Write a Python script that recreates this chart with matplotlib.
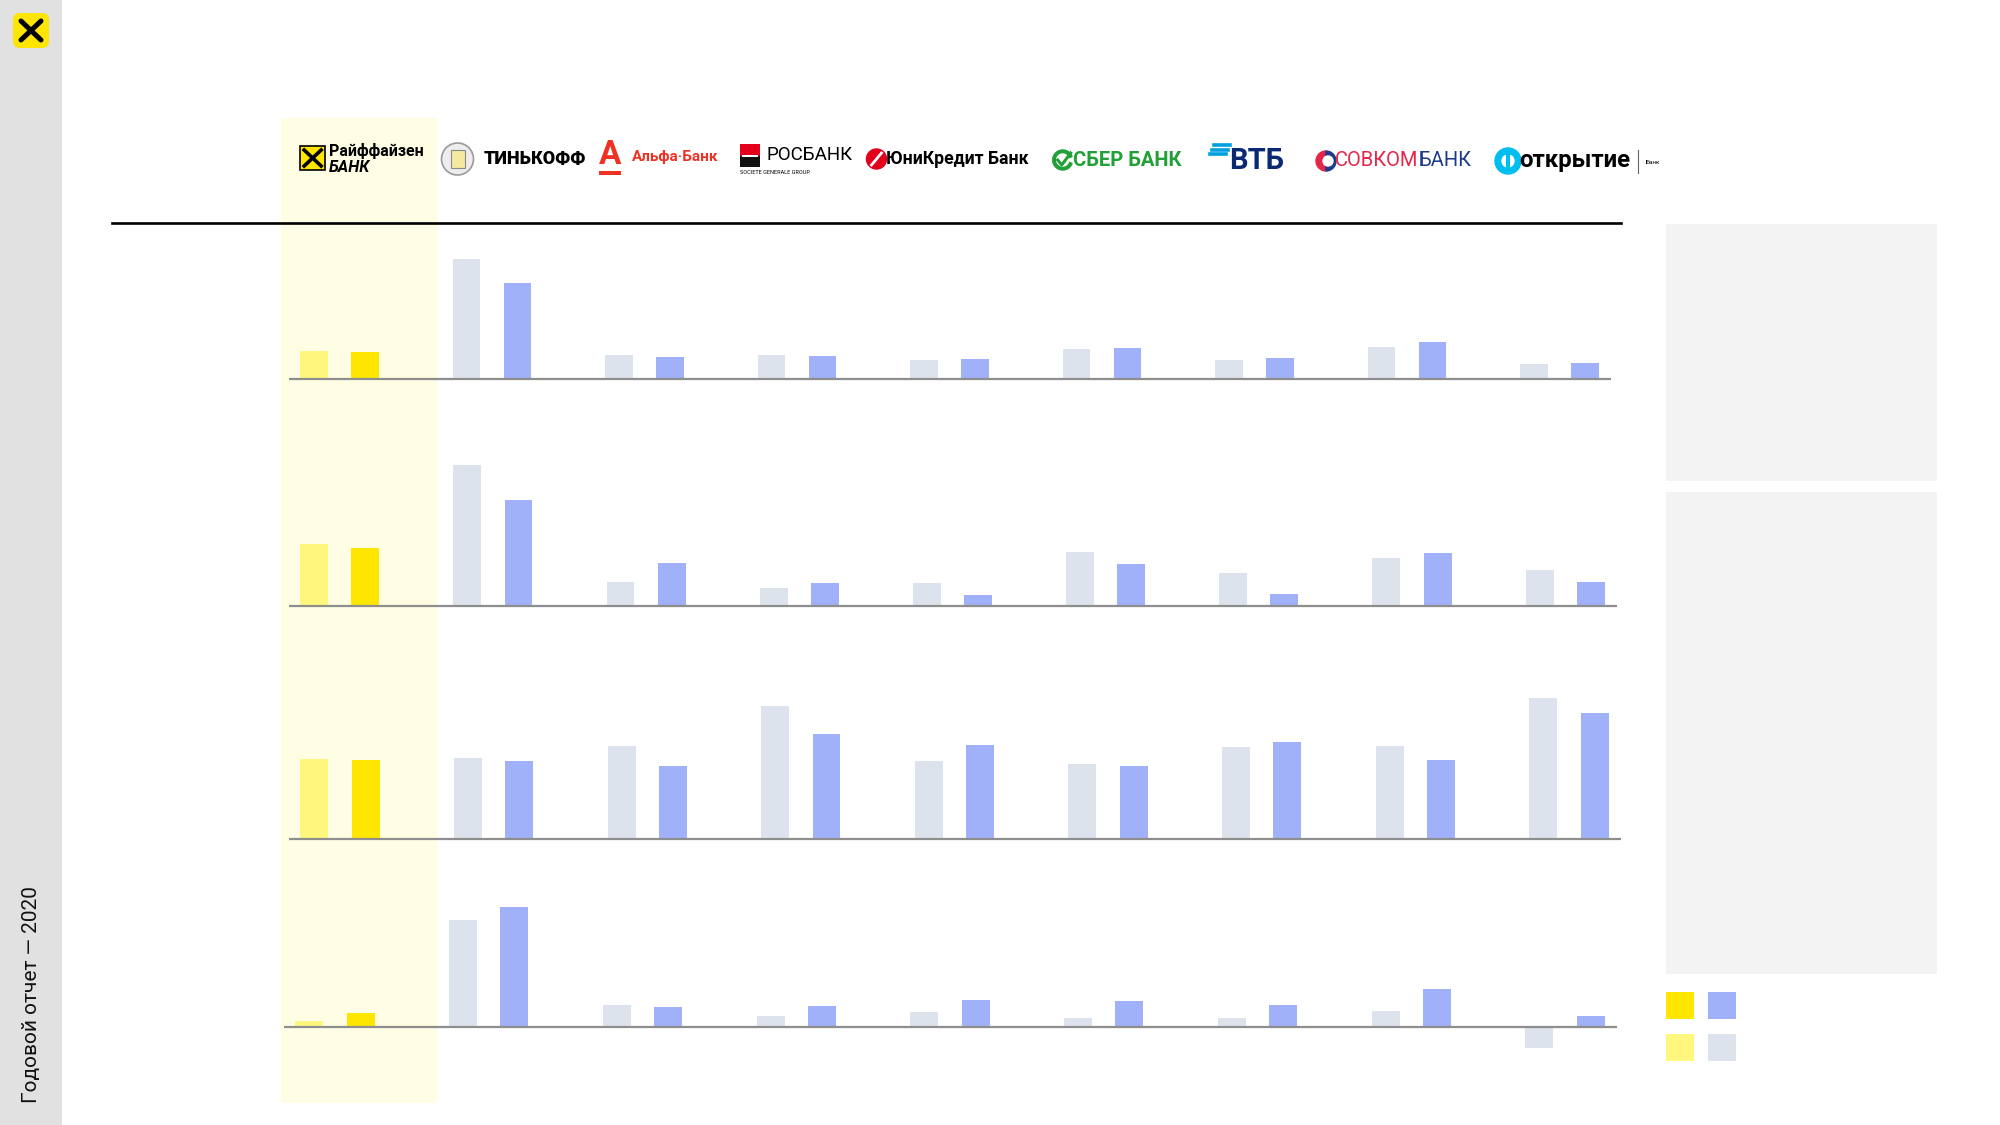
import matplotlib
matplotlib.use("Agg")
import matplotlib.pyplot as plt
from matplotlib.patches import Rectangle, FancyBboxPatch, Circle, Wedge
import numpy as np

# ---------------- data ----------------
banks = ["Райффайзен", "Тинькофф", "Альфа-Банк", "Росбанк", "ЮниКредит",
         "Сбербанк", "ВТБ", "Совкомбанк", "Открытие"]
p1_prev = [85, 361, 72, 71, 56, 91, 58, 95, 45]
p1_curr = [81, 289, 65, 69, 59, 93, 62, 110, 49]
p2_prev = [187, 422, 73, 53, 70, 162, 100, 144, 109]
p2_curr = [173, 319, 129, 68, 33, 127, 37, 160, 71]
p3_prev = [240, 244, 279, 399, 233, 226, 275, 278, 424]
p3_curr = [237, 234, 218, 314, 283, 219, 292, 237, 378]
p4_prev = [18, 322, 67, 34, 45, 26, 28, 48, -64]
p4_curr = [41, 360, 59, 64, 82, 77, 67, 114, 33]
side_title = "Годовой отчет — 2020"

YEL = "#FEE600"
YEL_L = "#FFF67E"
BLUE = "#A0B1F9"
GREY_L = "#DDE3ED"
BAND = "#FFFEE4"

W_PX, H_PX = 2000, 1125
fig = plt.figure(figsize=(20, 11.25), dpi=100)
fig.patch.set_facecolor("white")

def X(v):
    return v * 0.994

def rect(l, t, w, h):
    return [l / W_PX, 1 - (t + h) / H_PX, w / W_PX, h / H_PX]

# background / decoration axes in pixel coords
bg = fig.add_axes([0, 0, 1, 1], zorder=0)
bg.set_xlim(0, W_PX)
bg.set_ylim(H_PX, 0)
bg.axis("off")

bg.add_patch(Rectangle((0, 0), 62, H_PX, color="#E1E1E1", lw=0))
bg.add_patch(FancyBboxPatch((13, 13), 36, 35, boxstyle="round,pad=0,rounding_size=7",
                            fc=YEL, ec="none"))
bg.plot([21, 41], [21, 40], color="black", lw=3.6, solid_capstyle="round")
bg.plot([21, 41], [40, 21], color="black", lw=3.6, solid_capstyle="round")
bg.text(32, 1103, side_title, rotation=90, ha="center", va="bottom",
        fontsize=15, family="Roboto", color="#111111")

# highlight band
bg.add_patch(Rectangle((X(283), 118), 437 - X(283), 985, color=BAND, lw=0))
# top line
bg.plot([X(113), X(1631)], [223, 223], color="black", lw=1.9)

# right panels
bg.add_patch(Rectangle((1666, 224), 271, 257, color="#F3F3F3", lw=0))
bg.add_patch(Rectangle((1666, 492), 271, 482, color="#F3F3F3", lw=0))
# legend squares
bg.add_patch(Rectangle((1666, 992), 28, 27, color=YEL, lw=0))
bg.add_patch(Rectangle((1708, 992), 28, 27, color=BLUE, lw=0))
bg.add_patch(Rectangle((1666, 1034), 28, 27, color=YEL_L, lw=0))
bg.add_patch(Rectangle((1708, 1034), 28, 27, color=GREY_L, lw=0))

# ---------------- logos ----------------
cy = 159
# Raiffeisen
bg.add_patch(Rectangle((X(302), 146), 25, 24, fc=YEL, ec="black", lw=1.2))
bg.plot([X(306), X(306) + 17], [150, 166], color="black", lw=2.6)
bg.plot([X(306), X(306) + 17], [166, 150], color="black", lw=2.6)
bg.text(X(331), 151, "Райффайзен", fontsize=11.5, fontweight="bold", family="Roboto",
        ha="left", va="center")
bg.text(X(331), 167, "БАНК", fontsize=11.5, fontweight="bold", style="italic",
        family="Roboto", ha="left", va="center")
# Tinkoff
bg.add_patch(Circle((457.5, 159), 16, fc="#EDEDED", ec="#9A9A9A", lw=1.2))
bg.add_patch(Rectangle((457.5 - 7, 150), 14, 18, fc="#F3E9A0", ec="#8A8A8A", lw=0.8))
bg.text(483.5, cy, "ТИНЬКОФФ", fontsize=13, fontweight="black", family="Roboto",
        ha="left", va="center")
# Alfa
bg.text(610, 155, "А", fontsize=24, fontweight="bold", family="Roboto",
        color="#EF3124", ha="center", va="center")
bg.add_patch(Rectangle((599, 171), 22, 4, color="#EF3124", lw=0))
bg.text(632, 157, "Альфа·Банк", fontsize=11, fontweight="bold", family="Roboto",
        color="#EF3124", ha="left", va="center")
# Rosbank
bg.add_patch(Rectangle((740, 144), 20, 12, color="#E4001B", lw=0))
bg.add_patch(Rectangle((740, 156), 20, 11, color="#111111", lw=0))
bg.add_patch(Rectangle((742, 155), 16, 2, color="white", lw=0))
bg.text(766, 155, "РОСБАНК", fontsize=13.5, family="Roboto", ha="left", va="center")
bg.text(740, 172, "SOCIETE GENERALE GROUP", fontsize=4, family="Roboto",
        ha="left", va="center")
# UniCredit
bg.add_patch(Circle((876.5, 159), 10, color="#E2001A"))
bg.plot([871.5, 881.5], [165, 153], color="white", lw=2)
bg.text(886.5, cy, "ЮниКредит Банк", fontsize=12.7, fontweight="bold", family="Roboto",
        ha="left", va="center")
# Sber
sx = 1062.7
bg.add_patch(Wedge((sx, 160), 10, 20, 340, width=2.6, color="#21A038"))
bg.plot([sx - 5, sx - 1, sx + 8], [160, 165, 153], color="#21A038", lw=2.2)
bg.text(1073.3, 160, "СБЕР БАНК", fontsize=14.5, fontweight="bold", family="Roboto",
        color="#21A038", ha="left", va="center")
# VTB
vx = 1209.5
for k in range(3):
    bg.plot([vx + 4 - 2 * k, vx + 20 - 2 * k], [145 + 4.5 * k, 145 + 4.5 * k],
            color="#009FDF", lw=2.6)
bg.text(1228.7, 161, "ВТБ", fontsize=21, fontweight="bold", family="Roboto",
        color="#0A2973", ha="left", va="center")
# Sovcombank
ox = 1326
bg.add_patch(Wedge((ox, 161), 10, 90, 270, color="#E3264A"))
bg.add_patch(Wedge((ox, 161), 10, 270, 90, color="#1E3A8A"))
bg.add_patch(Circle((ox + 2, 161), 5, color="white"))
t1 = bg.text(1334.6, 161, "СОВКОМ", fontsize=14.5, family="Roboto", color="#E3264A",
             ha="left", va="center")
bg.annotate("БАНК", xy=(1, 0.5), xycoords=t1, fontsize=14.5, family="Roboto",
            color="#1E3A8A", ha="left", va="center")
# Otkrytie
kx = 1508
bg.add_patch(Circle((kx, 161), 13, color="#00BEF0"))
bg.add_patch(Circle((kx, 161), 6, color="white"))
bg.add_patch(Rectangle((kx - 2, 150), 4, 22, color="#00BEF0", lw=0))
bg.text(1519, 160, "открытие", fontsize=17.3, fontweight="bold", family="Roboto",
        ha="left", va="center")
bg.plot([1638, 1638], [150, 173], color="#666666", lw=0.8)
bg.text(1646, 162, "Банк", fontsize=4.5, family="Roboto", ha="left", va="center")

# ---------------- bar panels ----------------
panels = [
    (p1_prev, p1_curr, 291, 1330, 235, 395, 379),
    (p2_prev, p2_curr, 291, 1336, 440, 620, 606),
    (p3_prev, p3_curr, 291, 1340, 670, 850, 839),
    (p4_prev, p4_curr, 286, 1341, 880, 1070, 1027),
]
x = np.arange(len(banks))
bw = 0.182
off = 0.167
for prev, curr, L, W, T, B, base in panels:
    ax = fig.add_axes(rect(X(L), T, X(W), B - T), zorder=2)
    ax.patch.set_alpha(0)
    ax.set_xlim(-0.33, 8.34)
    ax.set_ylim(-(B - base) * 3, (base - T) * 3)
    c_prev = [YEL_L] + [GREY_L] * (len(banks) - 1)
    c_curr = [YEL] + [BLUE] * (len(banks) - 1)
    ax.bar(x - off, prev, width=bw, color=c_prev, lw=0)
    ax.bar(x + off, curr, width=bw, color=c_curr, lw=0)
    ax.axhline(0, color="#8E8E8E", lw=1.6)
    ax.axis("off")

fig.savefig("out.png", dpi=100)
